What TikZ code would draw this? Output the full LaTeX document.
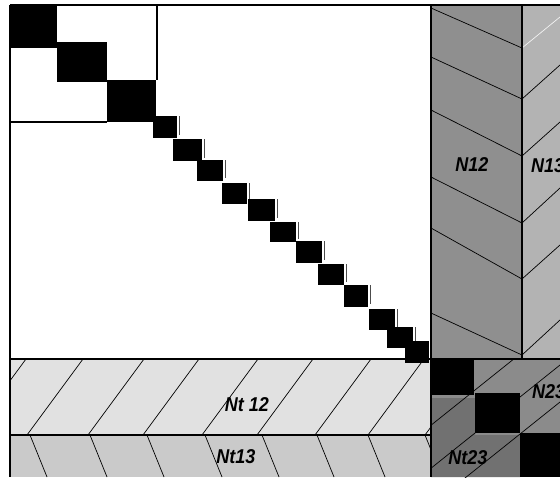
\documentclass[tikz,border=0pt]{standalone}
\usepackage{fontspec}
\setmainfont{Liberation Sans}
\definecolor{nA}{HTML}{8F8F8F}
\definecolor{nB}{HTML}{B3B3B3}
\definecolor{ntA}{HTML}{E1E1E1}
\definecolor{ntB}{HTML}{CACACA}
\definecolor{nC}{HTML}{8B8B8B}
\definecolor{ntC}{HTML}{717171}
\begin{document}
\begin{tikzpicture}[x=1pt,y=-1pt,
  blk/.style={fill=black},
  hatch/.style={draw=black, line width=0.7pt},
  edge/.style={draw=black, line width=1.2pt},
  shadowline/.style={draw=black!70, line width=0.8pt},
  lbl/.style={font=\fontsize{20}{20}\selectfont\bfseries\itshape, inner sep=0pt, xscale=0.9}]
\useasboundingbox (0,0) rectangle (560,477);
\fill[white] (0,0) rectangle (560,477);
\begin{scope}
\clip (0,0) rectangle (560,477);
% right column regions
\fill[nA] (431,5) rectangle (522,359);
\fill[nB] (522,5) rectangle (560,359);
\begin{scope}
\clip (431,5) rectangle (522,359);
\foreach \a/\b in {8/48,57/99,110/156,177/223,228/279,313/355}
  \draw[hatch] (431,\a) -- (522,\b);
\end{scope}
\begin{scope}
\clip (522,5) rectangle (560,359);
\draw[draw=white!90!gray, line width=0.7pt] (522,48) -- (560,17);
\foreach \b/\c in {99/65,156/122,223/188,279/245,355/320}
  \draw[hatch] (522,\b) -- (560,\c);
\end{scope}
% bottom bands
\fill[ntA] (10,359) rectangle (431,435);
\fill[ntB] (10,435) rectangle (431,477);
\begin{scope}
\clip (10,359) rectangle (431,435);
\foreach \x in {-30,27,88,143,202,257,315,368,425}
  \draw[hatch] (\x,435) -- ({\x+56},359);
\end{scope}
\begin{scope}
\clip (10,435) rectangle (431,477);
\foreach \x in {30,90,147,205,262,317,368,425}
  \draw[hatch] (\x,435) -- ({\x+17},477);
\end{scope}
% bottom-right block
\fill[nC] (431,359) rectangle (560,477);
\fill[ntC] (431,398) -- (475,398) -- (475,435) -- (520,435) -- (520,477) -- (431,477) -- cycle;
\begin{scope}
\clip (431,359) rectangle (560,477);
\foreach \c in {770,813,850}
  \draw[hatch] (431,{\c-0.8*431}) -- (560,{\c-0.8*560});
\end{scope}
% diagonal blocks
\foreach \xa/\ya/\xb/\yb in {10/5/57/48, 57/42/107/82, 107/80/156/122}
  \fill[blk] (\xa,\ya) rectangle (\xb,\yb);
\foreach \xa/\ya/\xb/\yb in {153/116/177/138, 173/139/202/161, 197/160/223/181,
   222/183/247/204, 248/199/275/221, 270/222/296/242, 296/241/322/263,
   318/264/344/285, 344/285/368/307, 369/309/395/330, 387/327/413/348}{
  \fill[blk] (\xa,\ya) rectangle (\xb,\yb);
  \draw[shadowline] ({\xb+2},\ya) -- ({\xb+2},{\yb-3});
}
\fill[blk] (405,341) rectangle (429,363);
\fill[blk] (431,360) rectangle (474,395);
\fill[blk] (475,393) rectangle (520,433);
\fill[blk] (520,433) rectangle (560,477);
% frame lines
\draw[edge] (10,5) -- (560,5);
\draw[edge] (10,5) -- (10,477);
\draw[edge] (157,5) -- (157,80);
\draw[edge] (10,122) -- (107,122);
\draw[edge] (10,359) -- (560,359);
\draw[edge] (10,435) -- (431,435);
\draw[edge] (431,5) -- (431,477);
\draw[edge] (522,5) -- (522,359);
% labels
\node[lbl] (n12) at (472,165) {N12};
\node[lbl, anchor=west] (n13) at (531,166) {N13};
\node[lbl] (nt12) at (247,405) {Nt 12};
\node[lbl] (nt13) at (236,457) {Nt13};
\node[lbl, anchor=west] (n23) at (532,392) {N23};
\node[lbl] (nt23) at (468,458) {Nt23};
\end{scope}
\end{tikzpicture}
\end{document}
